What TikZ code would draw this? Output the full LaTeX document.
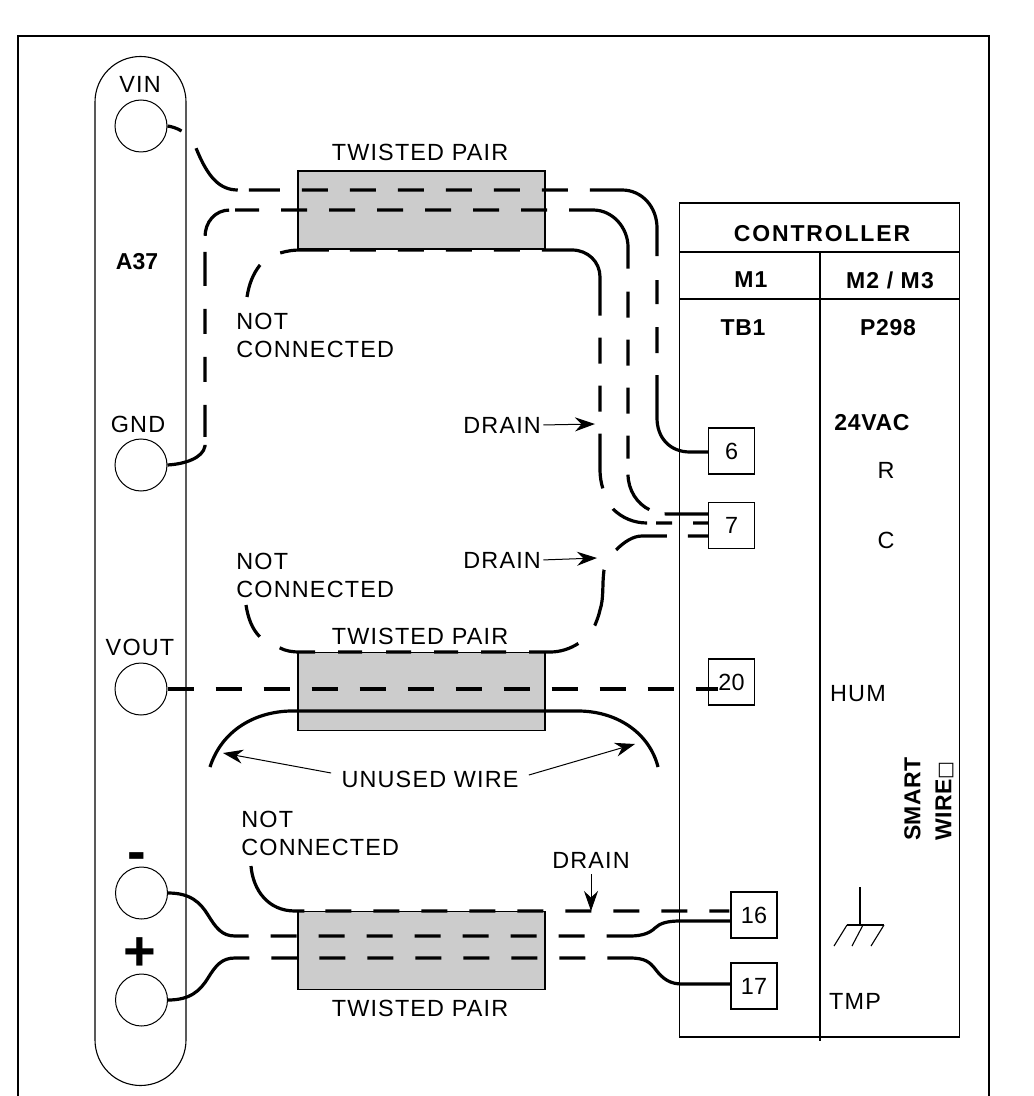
\documentclass[tikz,border=0pt]{standalone}
\usepackage{fontspec}
\setmainfont{Liberation Sans}
\newfontfamily\boxfont{DejaVu Sans}
\usetikzlibrary{
    arrows.meta,
    shapes.geometric
}
\definecolor{shield}{gray}{0.8}
\tikzset{
    % Base line style
    thinline/.style={
        line width=0.55pt,
        color=black
    },
    % Twisted pair sleeve
    sleeve/.style={
        rectangle,
        minimum width=123.5pt,
        minimum height=39pt,
        draw=black,
        fill=shield,
        line width=0.6pt
    },
    % Round connection on A37
    port/.style={
        circle,
        minimum size=26pt,
        inner sep=0pt,
        draw=black,
        fill=white,
        line width=0.5pt
    },
    % Screw terminal
    terminal/.style={
        rectangle,
        minimum width=23pt,
        minimum height=23pt,
        inner sep=0pt,
        draw=black,
        fill=white,
        line width=0.6pt,
        font=\fontsize{11.7}{14}\selectfont
    },
    % Wire style
    wire/.style={
        line width=1.6pt,
        color=black
    },
    % Arrow styles
    callout/.style={
        -{Stealth[length=10pt, width=7pt]},
        line width=0.5pt,
        color=black
    },
    % Label styles
    label text/.style={
        font=\fontsize{11.7}{14}\selectfont\addfontfeature{LetterSpace=5},
        inner sep=0pt,
        align=left
    },
    bold text/.style={
        font=\fontsize{11.5}{15.5}\selectfont\bfseries\addfontfeature{LetterSpace=2},
        inner sep=0pt,
        align=left
    },
    head text/.style={
        font=\fontsize{11.5}{14}\selectfont\bfseries\addfontfeature{LetterSpace=#1},
        inner sep=0pt
    }
}

\begin{document}
\begin{tikzpicture}[x=0.5pt, y=-0.5pt]
    \useasboundingbox (0,0) rectangle (1033,1096);

    % Frame
    \draw[thinline] (18,1096) -- (18,36) -- (989,36) -- (989,1096);

    % A37 strip
    \draw[thinline] (95,102) arc (180:360:45.5) -- (186,1040) arc (0:180:45.5) -- cycle;
    \node[port] (vin) at (141,126) {};
    \node[port] (gnd) at (141,465) {};
    \node[port] (vout) at (141,689) {};
    \node[port] (minus) at (141.5,893) {};
    \node[port] (plus) at (141.5,1000) {};

    % Controller
    \node[rectangle, draw=black, line width=0.6pt, minimum width=140.25pt, minimum height=417pt, inner sep=0pt] (ctrl) at (819.5,620) {};
    \draw[thinline] (679,252) -- (960,252);
    \draw[thinline] (679,299) -- (960,299);
    \draw[thinline] (820,252) -- (820,1041);

    % Terminals
    \node[terminal] (t6) at (731.5,451) {6};
    \node[terminal] (t7) at (731.5,525.5) {7};
    \node[terminal] (t20) at (731.5,682) {20};
    \node[terminal] (t16) at (754,915) {16};
    \node[terminal] (t17) at (754,986) {17};

    % Twisted pairs
    \node[sleeve] (paira) at (421.5,210) {};
    \node[sleeve] (pairb) at (421.5,691.5) {};
    \node[sleeve] (pairc) at (421.5,950.5) {};

    % Free wire ends
    \coordinate (nca) at (247,297);
    \coordinate (ncb) at (246,605);
    \coordinate (ncc) at (251,866);
    \coordinate (cutl) at (210,767);
    \coordinate (cutr) at (658,767);
    \coordinate (tipa) at (595,424);
    \coordinate (tipb) at (597,558);
    \coordinate (tipc) at (591,911);
    \coordinate (tipl) at (223,753);
    \coordinate (tipr) at (635,744);

    % Wires, top pair
    \draw[wire, dash pattern=on 7.5pt off 11.5pt on 31.5pt off 5.5pt on 15.5pt off 11pt on 13pt off 11pt on 13pt off 11pt on 13pt off 11pt on 13pt off 11pt on 13pt off 11pt on 13pt off 11pt on 59pt off 12pt on 12pt off 11.5pt on 13pt off 11pt on 100pt off 1pt]
        (vin.east) .. controls (175,127) and (190,132) .. (196,148) .. controls (208,178) and (220,190) .. (238,190) -- (622,190) .. controls (642,190) and (657,207) .. (657,228) -- (657,418) .. controls (657,438) and (670,452) .. (690,452) -- ([yshift=-0.5pt]t6.west);
    \draw[wire, dash pattern=on 23pt off 4pt on 16pt off 11.5pt on 12.5pt off 11.5pt on 12.5pt off 11.5pt on 17pt off 8pt on 19.5pt off 3pt on 12pt off 11pt on 13pt off 11pt on 13pt off 11pt on 13pt off 11pt on 13pt off 11pt on 13pt off 11pt on 13pt off 11pt on 51pt off 11.5pt on 13pt off 11pt on 13pt off 11pt on 13pt off 11pt on 11.5pt off 8pt on 21.5pt off 8pt on 50pt off 1pt]
        (gnd.east) .. controls (185,464) and (203,458) .. (205,446) -- (205,237) .. controls (205,222) and (215,210) .. (230,210) -- (593,210) .. controls (613,210) and (628,228) .. (628,247) -- (628,474) .. controls (628,490) and (637,504) .. (650,510) .. controls (654,512) and (660,514) .. (667,514) -- ([yshift=5.75pt]t7.west);
    \draw[wire, dash pattern=on 17.5pt off 12pt on 24.5pt off 10.5pt on 13pt off 11pt on 13pt off 11pt on 13pt off 11pt on 13pt off 11pt on 56pt off 11pt on 13pt off 11pt on 13pt off 11pt on 27.5pt off 11.5pt on 19pt off 4.5pt on 8pt off 10.5pt on 25pt off 1pt]
        (nca) .. controls (249,284) and (253,274) .. (260,265) .. controls (265,259) and (272,254) .. (280,253) .. controls (287,251) and (293,250) .. (300,250) -- (572,250) .. controls (588,250) and (600,262) .. (600,277) -- (600,470) .. controls (600,476) and (601,483) .. (603,489) .. controls (606,497) and (609,503) .. (613,509) .. controls (622,518) and (634,523) .. (647,523) -- ([yshift=1.25pt]t7.west);

    % Wires, middle pair
    \draw[wire, dash pattern=on 10pt off 10.5pt on 27.5pt off 11.75pt on 28.5pt off 12.25pt on 25.5pt off 11.5pt on 12.5pt off 11.5pt on 12pt off 11.5pt on 12.5pt off 12pt on 12pt off 11.5pt on 18pt off 11.5pt on 20pt off 1pt]
        ([yshift=-5.25pt]t7.west) -- (642,536) .. controls (633,536) and (624,542) .. (616,550) .. controls (610,556) and (606,563) .. (604,570) .. controls (602,585) and (604,598) .. (600,610) .. controls (599,615) and (597,620) .. (595,625) .. controls (590,633) and (585,640) .. (579,643) .. controls (570,649) and (560,652) .. (550,652) -- (300,652) .. controls (292,652) and (286,651) .. (280,648) .. controls (272,645) and (265,642) .. (260,637) .. controls (252,629) and (248,618) .. (ncb);
    \draw[wire, dash pattern=on 13pt off 11pt] (vout.east) -- ([xshift=5pt, yshift=-3.5pt]t20.west);
    \draw[wire] (cutl) .. controls (222,730) and (255,712) .. (290,711) -- (580,711) .. controls (620,712) and (650,735) .. (cutr);

    % Wires, bottom pair
    \draw[wire, dash pattern=on 39.5pt off 10.5pt on 13pt off 11pt on 13pt off 11pt on 13pt off 11pt on 13pt off 11pt on 13pt off 11pt on 13pt off 11pt on 13pt off 11pt on 13pt off 11pt on 10pt off 1pt]
        (ncc) .. controls (253,890) and (268,911) .. (295,911) -- ([yshift=2pt]t16.west);
    \draw[wire, dash pattern=on 49pt off 11pt on 13pt off 11pt on 13pt off 11pt on 13pt off 11pt on 13pt off 11pt on 13pt off 11pt on 13pt off 11pt on 13pt off 11pt on 100pt off 1pt]
        (minus.east) .. controls (190,893) and (200,902) .. (208,915) .. controls (216,928) and (222,936) .. (235,936) -- (630,936) .. controls (642,936) and (650,933) .. (655,928) .. controls (660,923) and (668,921) .. (680,921) -- ([yshift=-3pt]t16.west);
    \draw[wire, dash pattern=on 49pt off 11pt on 13pt off 11pt on 13pt off 11pt on 13pt off 11pt on 13pt off 11pt on 13pt off 11pt on 13pt off 11pt on 13pt off 11pt on 100pt off 1pt]
        (plus.east) .. controls (190,1000) and (200,991) .. (208,978) .. controls (216,965) and (222,958) .. (235,958) -- (630,958) .. controls (645,958) and (650,962) .. (656,970) .. controls (663,979) and (670,984) .. (682,984) -- ([yshift=1pt]t17.west);

    % Ground symbol
    \coordinate (earth) at (860,925);
    \draw[thinline] (860,887) -- (earth);
    \draw[thinline] (847,925) -- (884,925);
    \draw[thinline] (847,925) -- (834,946);
    \draw[thinline] (863,925) -- (852,946);
    \draw[thinline] (884,925) -- (871,946);

    % A37 labels
    \node[label text] (lvin) at (140,84) {VIN};
    \node[head text=0] (la37) at (137,262) {A37};
    \node[label text] (lgnd) at (138,424) {GND};
    \node[label text] (lvout) at (140,647) {VOUT};
    \node[font=\fontsize{28}{28}\selectfont\bfseries, inner sep=0pt] (lminus) at (137,862) {-};
    \node[font=\fontsize{28}{28}\selectfont\bfseries, inner sep=0pt] (lplus) at (140,954) {+};

    % Wire labels
    \node[label text] (twa) at (420,152) {TWISTED PAIR};
    \node[label text] (twb) at (420,636) {TWISTED PAIR};
    \node[label text] (twc) at (420,1008) {TWISTED PAIR};
    \node[label text, anchor=north west] (nota) at (236,312.5) {NOT\\CONNECTED};
    \node[label text, anchor=north west] (notb) at (236,552.5) {NOT\\CONNECTED};
    \node[label text, anchor=north west] (notc) at (241,810.5) {NOT\\CONNECTED};
    \node[label text, anchor=west] (draina) at (463,425) {DRAIN};
    \node[label text, anchor=west] (drainb) at (463,560) {DRAIN};
    \node[label text] (drainc) at (591,860) {DRAIN};
    \node[label text, inner sep=5pt] (unused) at (430,779) {UNUSED WIRE};

    % Callouts
    \draw[callout, shorten <=1pt] (draina.east) -- (tipa);
    \draw[callout, shorten <=1pt] (drainb.east) -- (tipb);
    \draw[callout, shorten <=3pt] (drainc.south) -- (tipc);
    \draw[callout] ([yshift=3pt]unused.west) -- (tipl);
    \draw[callout] ([yshift=2pt]unused.east) -- (tipr);

    % Controller labels
    \node[head text=8] (lctrl) at (822,234) {CONTROLLER};
    \node[head text=5] (lmone) at (751,280) {M1};
    \node[head text=5] (lmtwo) at (890,280) {M2 / M3};
    \node[head text=3] (ltb) at (743,328) {TB1};
    \node[head text=3] (lptn) at (888,328) {P298};
    \node[head text=3] (lvac) at (872,423) {24VAC};
    \node[label text] (lr) at (886,470) {R};
    \node[label text] (lc) at (886,540) {C};
    \node[label text] (lhum) at (858,694) {HUM};
    \node[label text] (ltmp) at (855,1001) {TMP};
    \node[bold text, rotate=90] (lsmart) at (929,799) {SMART\\WIRE{\boxfont\fontsize{9.5}{14}\selectfont □}};
\end{tikzpicture}
\end{document}
